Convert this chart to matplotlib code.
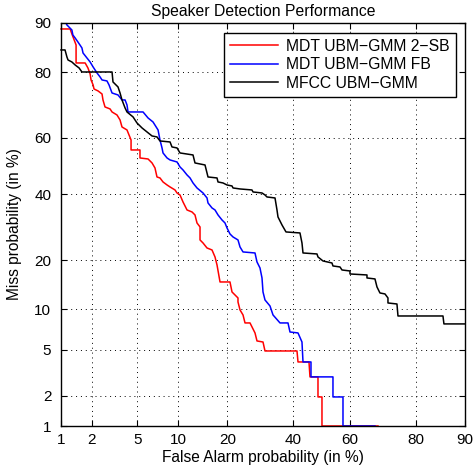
import math
import numpy as np
import matplotlib
matplotlib.use("Agg")
import matplotlib.pyplot as plt

# ---- data (percent) ----
red_fa = [1.00, 1.24, 1.29, 1.36, 1.42, 1.42, 1.74, 1.85, 1.94, 1.98,
          2.07, 2.11, 2.30, 2.50, 2.55, 2.66, 2.95, 3.07, 3.39, 3.60,
          3.74, 4.12, 4.28, 4.45, 4.45, 5.25, 5.25, 6.07, 6.51, 6.85,
          7.09, 7.46, 7.85, 8.39, 8.81, 9.54, 9.85, 10.32, 10.81, 11.49,
          12.38, 12.93, 13.31, 13.90, 13.90, 14.50, 15.33, 16.41, 17.08, 17.54,
          18.24, 20.69, 21.21, 22.79, 22.79, 23.34, 24.17, 24.73, 26.16, 27.63,
          28.23, 30.07, 30.69, 41.34, 41.69, 45.55, 45.91, 48.75, 48.75, 50.17,
          50.17, 69.30]
red_miss = [89.03, 89.03, 88.17, 87.07, 86.10, 82.22, 82.22, 81.03, 79.54, 77.98,
            76.63, 75.52, 74.96, 74.09, 72.33, 70.19, 69.57, 68.62, 67.66, 66.04,
            63.71, 62.70, 61.00, 59.27, 55.76, 55.76, 52.92, 52.56, 51.14, 49.35,
            46.14, 45.79, 44.37, 43.31, 42.61, 41.56, 40.51, 39.82, 37.42, 34.74,
            34.08, 33.11, 30.55, 29.31, 25.44, 24.58, 23.19, 22.65, 20.81, 18.82,
            14.99, 14.99, 13.00, 11.90, 11.20, 9.90, 9.14, 8.02, 8.02, 6.77,
            5.88, 5.77, 4.90, 4.90, 3.98, 3.98, 2.96, 2.96, 1.94, 1.94,
            1.00, 1.00]

blue_fa = [1.10, 1.15, 1.29, 1.32, 1.39, 1.48, 1.55, 1.62, 1.66, 1.81,
           1.94, 2.07, 2.25, 2.40, 2.50, 2.77, 2.89, 3.07, 3.46, 3.74,
           3.97, 4.12, 4.20, 5.55, 6.07, 6.62, 7.22, 7.46, 7.72, 7.85,
           8.39, 8.81, 9.85, 10.32, 10.81, 11.49, 12.02, 12.56, 13.31, 14.50,
           15.33, 15.54, 16.41, 17.08, 17.77, 18.71, 19.44, 19.94, 20.69, 21.47,
           22.79, 23.34, 24.17, 27.63, 28.23, 29.14, 29.76, 30.07, 30.69, 32.28,
           33.25, 35.55, 38.24, 38.92, 41.69, 43.08, 43.44, 46.26, 46.26, 54.08,
           54.08, 57.61, 57.61, 68.35]
blue_miss = [90.32, 89.69, 88.86, 87.99, 87.44, 86.69, 86.10, 85.50, 84.45, 83.36,
             82.45, 81.27, 79.79, 78.77, 77.98, 77.72, 76.63, 74.38, 73.80, 72.33,
             72.33, 70.81, 68.62, 68.62, 66.69, 65.38, 62.70, 59.27, 56.47, 54.70,
             52.92, 52.21, 51.49, 49.71, 48.64, 46.86, 45.79, 44.02, 42.26, 40.51,
             38.79, 37.09, 35.41, 34.74, 33.11, 31.50, 30.55, 29.00, 27.19, 26.31,
             25.44, 23.47, 22.12, 21.85, 19.55, 18.10, 15.84, 13.00, 11.55, 10.53,
             9.14, 8.02, 8.02, 6.88, 6.77, 5.77, 3.98, 3.98, 2.96, 2.96,
             1.94, 1.94, 1.00, 1.00]

black_fa = [1.00, 1.10, 1.15, 1.18, 1.29, 1.39, 1.52, 1.62, 3.07, 3.13,
            3.46, 3.60, 3.74, 3.97, 4.12, 4.62, 4.97, 5.45, 5.96, 6.51,
            7.09, 7.46, 8.81, 9.09, 9.85, 10.32, 12.56, 12.93, 14.91, 15.54,
            17.54, 17.77, 18.95, 19.94, 21.21, 21.47, 23.34, 26.74, 27.04, 29.76,
            30.69, 31.32, 33.90, 34.55, 34.88, 36.21, 37.56, 42.38, 43.08, 43.44,
            48.39, 48.75, 50.53, 53.73, 54.08, 56.56, 57.26, 60.04, 60.04, 65.77,
            65.77, 68.35, 68.99, 69.92, 71.46, 72.36, 72.36, 74.98, 75.27, 86.10,
            86.29, 89.99]
black_miss = [85.09, 85.09, 83.58, 82.91, 82.45, 81.75, 81.03, 80.04, 80.04, 77.45,
              76.08, 74.38, 72.33, 69.88, 68.62, 67.02, 65.05, 63.38, 62.02, 60.65,
              60.31, 58.92, 58.57, 56.82, 56.47, 54.70, 53.99, 51.14, 50.42, 46.14,
              45.79, 44.37, 44.02, 43.31, 42.96, 42.26, 41.91, 41.56, 40.86, 40.51,
              39.82, 39.13, 38.79, 34.74, 32.46, 29.93, 27.79, 27.49, 24.58, 21.85,
              21.59, 20.81, 19.80, 19.30, 18.58, 18.34, 17.63, 17.40, 16.72, 16.50,
              15.84, 15.63, 13.97, 12.81, 12.63, 11.90, 11.03, 10.86, 8.99, 8.99,
              7.89, 7.89]

series_labels = ["MDT UBM\u2212GMM 2\u2212SB", "MDT UBM\u2212GMM FB", "MFCC UBM\u2212GMM"]
tick_vals = [1, 2, 5, 10, 20, 40, 60, 80, 90]

# ---- probit scale ----
def _ppf(p):
    p = np.clip(np.asarray(p, dtype=float), 1e-12, 1 - 1e-12)
    a = [-3.969683028665376e+01, 2.209460984245205e+02, -2.759285104469687e+02,
         1.383577518672690e+02, -3.066479806614716e+01, 2.506628277459239e+00]
    b = [-5.447609879822406e+01, 1.615858368580409e+02, -1.556989798598866e+02,
         6.680131188771972e+01, -1.328068155288572e+01]
    c = [-7.784894002430293e-03, -3.223964580411365e-01, -2.400758277161838e+00,
         -2.549732539343734e+00, 4.374664141464968e+00, 2.938163982698783e+00]
    d = [7.784695709041462e-03, 3.224671290700398e-01, 2.445134137142996e+00,
         3.754408661907416e+00]
    plow = 0.02425
    out = np.empty_like(p)
    lo = p < plow
    hi = p > 1 - plow
    mid = ~(lo | hi)
    q = np.sqrt(-2 * np.log(p[lo]))
    out[lo] = (((((c[0]*q+c[1])*q+c[2])*q+c[3])*q+c[4])*q+c[5]) / ((((d[0]*q+d[1])*q+d[2])*q+d[3])*q+1)
    q = np.sqrt(-2 * np.log(1 - p[hi]))
    out[hi] = -(((((c[0]*q+c[1])*q+c[2])*q+c[3])*q+c[4])*q+c[5]) / ((((d[0]*q+d[1])*q+d[2])*q+d[3])*q+1)
    q = p[mid] - 0.5
    r = q * q
    out[mid] = (((((a[0]*r+a[1])*r+a[2])*r+a[3])*r+a[4])*r+a[5])*q / (((((b[0]*r+b[1])*r+b[2])*r+b[3])*r+b[4])*r+1)
    return out

def fwd(x):
    return _ppf(np.asarray(x, dtype=float) / 100.0)

_erf = np.vectorize(math.erf)
def inv(z):
    z = np.asarray(z, dtype=float)
    return 100 * 0.5 * (1 + _erf(z / math.sqrt(2)))

plt.rcParams['font.family'] = ['Liberation Sans', 'DejaVu Sans']

fig = plt.figure(figsize=(4.73, 4.68), dpi=100)
ax = fig.add_axes([61/473, 42/468, 404/473, 403/468])
ax.set_xscale('function', functions=(fwd, inv))
ax.set_yscale('function', functions=(fwd, inv))

ax.plot(red_fa, red_miss, color='#ff0000', lw=1.1, label=series_labels[0], clip_on=False)
ax.plot(blue_fa, blue_miss, color='#0000ff', lw=1.1, label=series_labels[1], clip_on=True)
ax.plot(black_fa, black_miss, color='black', lw=1.1, label=series_labels[2], clip_on=False)

ax.set_xlim(1, 90)
ax.set_ylim(1, 90)
ax.set_xticks(tick_vals)
ax.set_yticks(tick_vals)
ax.set_xticklabels([str(v) for v in tick_vals])
ax.set_yticklabels([str(v) for v in tick_vals])
ax.minorticks_off()
ax.tick_params(direction='in', top=True, right=True, length=4, width=0.8,
               labelsize=11)
ax.tick_params(axis='y', pad=7)
ax.tick_params(axis='x', pad=5)
ax.grid(True, color='black', linestyle=(0, (1, 4)), linewidth=0.7)
for s in ax.spines.values():
    s.set_linewidth(1.0)

ax.set_title("Speaker Detection Performance", fontsize=11.3, pad=5)
ax.set_xlabel("False Alarm probability (in %)", fontsize=11.2, labelpad=2)
ax.set_ylabel("Miss probability (in %)", fontsize=11.2, labelpad=9)

leg = ax.legend(loc='upper right', bbox_to_anchor=(0.977, 0.976), fontsize=11.3,
                frameon=True, fancybox=False, edgecolor='black', framealpha=1,
                handlelength=3.05, handletextpad=0.5, borderpad=0.4,
                labelspacing=0.22, borderaxespad=0)
leg.get_frame().set_linewidth(1.0)

fig.savefig("out.png", dpi=100)
